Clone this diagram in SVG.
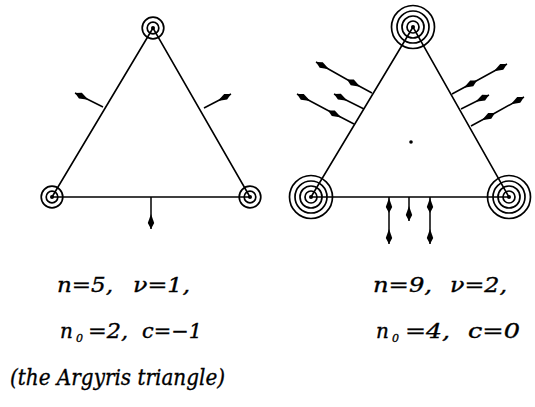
<svg xmlns="http://www.w3.org/2000/svg" width="535" height="407" viewBox="0 0 535 407">
<defs>
<style>
.edge{fill:none;stroke:#000;stroke-width:1.6}
.ring{fill:none;stroke:#000;stroke-width:1.7}
.dot{fill:#000}
.arr{fill:none;stroke:#000;stroke-width:1.5;marker-end:url(#head)}
.arr2{fill:none;stroke:#000;stroke-width:1.5;marker-mid:url(#head);marker-end:url(#head)}
.t{font-family:"DejaVu Serif","Liberation Serif",serif;font-style:italic;font-size:20px;fill:#000;stroke:#000;stroke-width:0.35}
.cap{font-family:"DejaVu Serif","Liberation Serif",serif;font-style:italic;font-size:22px;fill:#000;stroke:#000;stroke-width:0.35}
.sub{font-family:"DejaVu Serif","Liberation Serif",serif;font-style:italic;font-size:11px;fill:#000;stroke:#000;stroke-width:0.3}
</style>
<marker id="head" viewBox="-16 -4 17 8" refX="0" refY="0" markerWidth="17" markerHeight="8" markerUnits="userSpaceOnUse" orient="auto">
<path d="M0,0 L-6,-3.2 L-15,0 L-6,3.2 Z" fill="#000"/>
</marker>
</defs>
<rect width="535" height="407" fill="#fff"/>

<g id="triangle-left">
<polygon class="edge" points="153,28 52,197 250,197"/>
</g>
<g id="left-v-top"><circle class="ring" cx="153" cy="28" r="5.8"/><circle class="ring" cx="153" cy="28" r="10.8"/><circle class="dot" cx="153" cy="28" r="2"/></g>
<g id="left-v-bl"><circle class="ring" cx="52" cy="197" r="5.8"/><circle class="ring" cx="52" cy="197" r="10.8"/><circle class="dot" cx="52" cy="197" r="2"/></g>
<g id="left-v-br"><circle class="ring" cx="250" cy="197" r="5.8"/><circle class="ring" cx="250" cy="197" r="10.8"/><circle class="dot" cx="250" cy="197" r="2"/></g>

<g id="triangle-right">
<polygon class="edge" points="413,27 311,197 509,197"/>
<circle class="dot" cx="411" cy="142" r="1.8"/>
</g>
<g id="right-v-top"><circle class="ring" cx="413" cy="27" r="6"/><circle class="ring" cx="413" cy="27" r="11"/><circle class="ring" cx="413" cy="27" r="16"/><circle class="ring" cx="413" cy="27" r="21.5"/><circle class="dot" cx="413" cy="27" r="2"/></g>
<g id="right-v-bl"><circle class="ring" cx="311" cy="197" r="6"/><circle class="ring" cx="311" cy="197" r="11"/><circle class="ring" cx="311" cy="197" r="16"/><circle class="ring" cx="311" cy="197" r="21.5"/><circle class="dot" cx="311" cy="197" r="2"/></g>
<g id="right-v-br"><circle class="ring" cx="509" cy="197" r="6"/><circle class="ring" cx="509" cy="197" r="11"/><circle class="ring" cx="509" cy="197" r="16"/><circle class="ring" cx="509" cy="197" r="21.5"/><circle class="dot" cx="509" cy="197" r="2"/></g>

<g id="connectors">
<path class="arr" d="M103,107 L75,93"/>
<path class="arr" d="M204,108 L231,94"/>
<path class="arr" d="M151,197 L151,229"/>

<path class="arr2" d="M372,93 L347,79.5 L316,62"/>
<path class="arr" d="M364,109 L334,94"/>
<path class="arr2" d="M354,124 L328,110.5 L297,94"/>

<path class="arr2" d="M452,94 L477,80.5 L507,64"/>
<path class="arr" d="M461,109 L489,95"/>
<path class="arr2" d="M471,126 L495,113 L524,97"/>

<path class="arr2" d="M389,197 L389,213 L389,244"/>
<path class="arr" d="M409,197 L409,221"/>
<path class="arr2" d="M430,197 L430,213 L430,244"/>
</g>

<g id="labels-left">
<text class="t" x="57" y="292" textLength="56" lengthAdjust="spacingAndGlyphs">n=5,</text>
<text class="t" x="133" y="292" textLength="57" lengthAdjust="spacingAndGlyphs">ν=1,</text>
<text class="t" x="60" y="338">n</text>
<text class="sub" x="76" y="342">0</text>
<text class="t" x="88" y="338" textLength="40" lengthAdjust="spacingAndGlyphs">=2,</text>
<text class="t" x="142" y="338" textLength="60" lengthAdjust="spacingAndGlyphs">c=−1</text>
<text class="cap" x="10" y="385" textLength="215" lengthAdjust="spacingAndGlyphs">(the Argyris triangle)</text>
</g>
<g id="labels-right">
<text class="t" x="373" y="292" textLength="59" lengthAdjust="spacingAndGlyphs">n=9,</text>
<text class="t" x="450" y="292" textLength="57" lengthAdjust="spacingAndGlyphs">ν=2,</text>
<text class="t" x="376" y="338">n</text>
<text class="sub" x="392" y="342">0</text>
<text class="t" x="405" y="338" textLength="45" lengthAdjust="spacingAndGlyphs">=4,</text>
<text class="t" x="468" y="338" textLength="52" lengthAdjust="spacingAndGlyphs">c=0</text>
</g>
</svg>
